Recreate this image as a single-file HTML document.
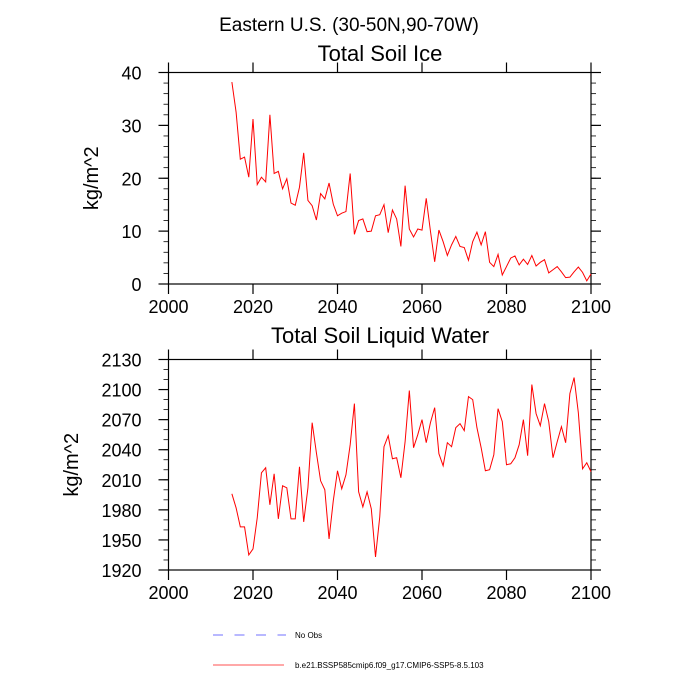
<!DOCTYPE html>
<html><head><meta charset="utf-8"><style>
html,body{margin:0;padding:0;background:#fff;}
svg{display:block;font-family:"Liberation Sans",sans-serif;}
</style></head><body>
<svg id="c" width="700" height="700" viewBox="0 0 700 700">
<text x="349" y="31" font-size="19" text-anchor="middle">Eastern U.S. (30-50N,90-70W)</text>
<text x="380" y="61" font-size="22" text-anchor="middle">Total Soil Ice</text>
<text x="380" y="343" font-size="22" text-anchor="middle">Total Soil Liquid Water</text>
<g id="p1"></g>
<g id="p2"></g>
<g>
<line x1="213" y1="635" x2="286" y2="635" stroke="#7070ff" stroke-width="1" stroke-dasharray="10,11.5"/>
<text x="295" y="638" font-size="8">No Obs</text>
<line x1="213" y1="665" x2="284" y2="665" stroke="#ff5050" stroke-width="1"/>
<text x="295" y="668" font-size="8">b.e21.BSSP585cmip6.f09_g17.CMIP6-SSP5-8.5.103</text>
</g>
</svg>
<script>
const startYear = 2015;
const iceValues = [38.2,32.5,23.6,24,20.2,31.2,18.8,20.2,19.3,32,20.9,21.3,18,19.9,15.3,14.9,18.3,24.8,15.8,14.8,12.1,17.1,16.1,19.1,15.1,12.9,13.4,13.7,20.9,9.4,12,12.3,9.9,10,12.9,13.1,15,9.7,14,12.3,7.1,18.6,10.4,8.9,10.4,10.2,16.2,10,4.2,10.2,8,5.4,7.4,9,7.1,6.9,4.5,8,9.8,7.4,9.9,4.1,3.3,5.6,1.7,3.3,4.9,5.3,3.6,4.7,3.7,5.4,3.4,4.1,4.6,2.1,2.7,3.3,2.3,1.2,1.3,2.3,3.2,2.2,0.6,1.9];
const waterValues = [1996,1982,1963,1963,1935,1941,1972,2017,2022,1985,2016,1971,2004,2002,1971,1971,2023,1968,2002,2067,2037,2009,2000,1951,1989,2019,2001,2015,2045,2086,1998,1983,1998,1981,1933,1973,2043,2054,2031,2032,2012,2048,2099,2042,2055,2070,2047,2067,2082,2036,2024,2047,2043,2062,2066,2059,2093,2090,2062,2042,2019,2020,2035,2081,2068,2025,2026,2032,2045,2070,2034,2105,2076,2064,2086,2068,2032,2048,2063,2047,2096,2112,2077,2021,2027,2018];
const xTicks = [2000,2020,2040,2060,2080,2100];
const iceTicks = [0,10,20,30,40];
const waterTicks = [1920,1950,1980,2010,2040,2070,2100,2130];
const NS='http://www.w3.org/2000/svg';
function mk(tag,attrs,parent){const e=document.createElementNS(NS,tag);for(const k in attrs)e.setAttribute(k,attrs[k]);parent.appendChild(e);return e;}
function panel(g,top,bottom,ymin,ymax,yTicks,minorStep,values,ylabel,key){
  const L=168.5,R=591;
  const sx=v=>L+(v-2000)/100*(R-L);
  const sy=v=>bottom-(v-ymin)/(ymax-ymin)*(bottom-top);
  const st={stroke:'#000','stroke-width':1.2};
  const fr=mk('rect',{x:L,y:top,width:R-L,height:bottom-top,fill:'none',stroke:'#000','stroke-width':1.2},g);
  
  
  xTicks.forEach(t=>{
    const x=sx(t);
    mk('line',Object.assign({x1:x,y1:top,x2:x,y2:top-10},st),g);
    mk('line',Object.assign({x1:x,y1:bottom,x2:x,y2:bottom+10},st),g);
    const tx=mk('text',{x:x,y:bottom+29,'font-size':18,'text-anchor':'middle'},g);
    tx.textContent=t;
    
    
  });
  for(let v=ymin;v<=ymax+1e-9;v+=minorStep){
    const y=sy(v);
    mk('line',{x1:L,y1:y,x2:L-5,y2:y,stroke:'#000','stroke-width':0.8},g);
    mk('line',{x1:R,y1:y,x2:R+5,y2:y,stroke:'#000','stroke-width':0.8},g);
  }
  yTicks.forEach(t=>{
    const y=sy(t);
    mk('line',Object.assign({x1:L,y1:y,x2:L-10,y2:y},st),g);
    mk('line',Object.assign({x1:R,y1:y,x2:R+10,y2:y},st),g);
    const tx=mk('text',{x:L-27,y:y+7,'font-size':18,'text-anchor':'end'},g);
    tx.textContent=t;
    
    
  });
  const yl=mk('text',{x:0,y:0,'font-size':20,'text-anchor':'middle',transform:`translate(${key==='ice'?98:78},${(top+bottom)/2}) rotate(-90)`},g);
  yl.textContent=ylabel;
  
  
  const pts=values.map((v,i)=>sx(startYear+i).toFixed(2)+','+sy(v).toFixed(2)).join(' ');
  const pl=mk('polyline',{points:pts,fill:'none',stroke:'#ff0000','stroke-width':1},g);
  
  
}
panel(document.getElementById('p1'),72.5,284,0,40,iceTicks,2,iceValues,'kg/m^2','ice');
panel(document.getElementById('p2'),359.5,570,1920,2130,waterTicks,10,waterValues,'kg/m^2','water');
</script>
</body></html>
